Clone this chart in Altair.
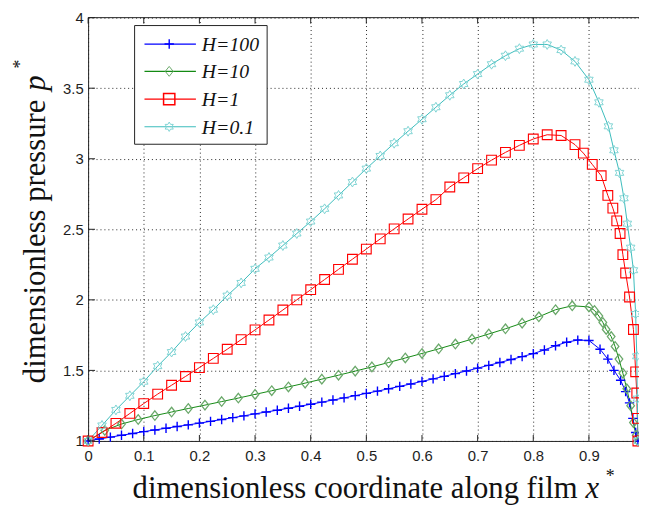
import altair as alt
import pandas as pd

# ---------------- data ----------------
series_names = ["H=100", "H=10", "H=1", "H=0.1"]

x_h100 = [0.00, 0.02, 0.04, 0.06, 0.08, 0.10, 0.12, 0.14, 0.16, 0.18, 0.20, 0.22, 0.24, 0.26,
          0.28, 0.30, 0.32, 0.34, 0.36, 0.38, 0.40, 0.42, 0.44, 0.46, 0.48, 0.50, 0.52, 0.54,
          0.56, 0.58, 0.60, 0.62, 0.64, 0.66, 0.68, 0.70, 0.72, 0.74, 0.76, 0.78, 0.80, 0.82,
          0.84, 0.86, 0.88, 0.90, 0.92, 0.934, 0.945, 0.957, 0.966, 0.973, 0.979, 0.984, 0.988]
y_h100 = [1.000, 1.014, 1.027, 1.040, 1.053, 1.066, 1.078, 1.090, 1.102, 1.114, 1.126, 1.139,
          1.152, 1.165, 1.178, 1.192, 1.205, 1.218, 1.232, 1.246, 1.260, 1.275, 1.290, 1.305,
          1.321, 1.337, 1.353, 1.370, 1.387, 1.404, 1.422, 1.440, 1.458, 1.477, 1.496, 1.516,
          1.536, 1.556, 1.577, 1.598, 1.619, 1.645, 1.675, 1.700, 1.715, 1.712, 1.650, 1.580,
          1.500, 1.430, 1.350, 1.270, 1.160, 1.060, 1.000]

x_h10 = [0.00, 0.03, 0.06, 0.09, 0.12, 0.15, 0.18, 0.21, 0.24, 0.27, 0.30, 0.33, 0.36, 0.39,
         0.42, 0.45, 0.48, 0.51, 0.54, 0.57, 0.60, 0.63, 0.66, 0.69, 0.72, 0.75, 0.78, 0.81,
         0.84, 0.87, 0.90, 0.91, 0.918, 0.925, 0.931, 0.940, 0.947, 0.954, 0.961, 0.968, 0.975,
         0.980, 0.985, 0.988]
y_h10 = [1.000, 1.075, 1.120, 1.152, 1.180, 1.205, 1.230, 1.254, 1.279, 1.304, 1.330, 1.356,
         1.383, 1.410, 1.438, 1.466, 1.495, 1.525, 1.556, 1.588, 1.620, 1.653, 1.687, 1.722,
         1.758, 1.795, 1.835, 1.880, 1.930, 1.958, 1.950, 1.925, 1.885, 1.840, 1.790, 1.740,
         1.670, 1.580, 1.480, 1.370, 1.250, 1.130, 1.040, 1.000]

x_h1 = [0.000, 0.025, 0.050, 0.075, 0.100, 0.125, 0.150, 0.175, 0.200, 0.225, 0.250, 0.275,
        0.300, 0.325, 0.350, 0.375, 0.400, 0.425, 0.450, 0.475, 0.500, 0.525, 0.550, 0.575,
        0.600, 0.625, 0.650, 0.675, 0.700, 0.725, 0.750, 0.775, 0.800, 0.825, 0.850, 0.875,
        0.890, 0.906, 0.922, 0.934, 0.943, 0.950, 0.956, 0.961, 0.966, 0.973, 0.980, 0.984,
        0.986, 0.987, 0.988]
y_h1 = [1.000, 1.060, 1.125, 1.195, 1.265, 1.332, 1.395, 1.457, 1.520, 1.585, 1.650, 1.718,
        1.787, 1.857, 1.928, 2.000, 2.072, 2.144, 2.216, 2.288, 2.360, 2.432, 2.503, 2.573,
        2.642, 2.710, 2.800, 2.865, 2.930, 2.990, 3.045, 3.095, 3.140, 3.170, 3.165, 3.100,
        3.040, 2.960, 2.880, 2.740, 2.650, 2.560, 2.470, 2.320, 2.190, 2.020, 1.790, 1.490,
        1.340, 1.160, 1.000]

x_h01 = [0.000, 0.025, 0.050, 0.075, 0.100, 0.125, 0.150, 0.175, 0.200, 0.225, 0.250, 0.275,
         0.300, 0.325, 0.350, 0.375, 0.400, 0.425, 0.450, 0.475, 0.500, 0.525, 0.550, 0.575,
         0.600, 0.625, 0.650, 0.675, 0.700, 0.725, 0.750, 0.775, 0.800, 0.825, 0.850, 0.875,
         0.900, 0.918, 0.935, 0.945, 0.955, 0.963, 0.969, 0.975, 0.980, 0.984, 0.986, 0.987,
         0.988]
y_h01 = [1.000, 1.110, 1.220, 1.320, 1.420, 1.530, 1.630, 1.740, 1.840, 1.930, 2.030, 2.120,
         2.220, 2.300, 2.385, 2.470, 2.555, 2.645, 2.740, 2.835, 2.930, 3.020, 3.110, 3.195,
         3.280, 3.365, 3.450, 3.530, 3.600, 3.670, 3.730, 3.780, 3.810, 3.810, 3.770, 3.690,
         3.560, 3.400, 3.230, 3.060, 2.900, 2.720, 2.540, 2.370, 2.210, 1.900, 1.600, 1.300,
         1.000]

x_ticks = [0.0, 0.1, 0.2, 0.3, 0.4, 0.5, 0.6, 0.7, 0.8, 0.9]
y_ticks = [1.0, 1.5, 2.0, 2.5, 3.0, 3.5, 4.0]

x_title = "dimensionless coordinate along film"
x_title_var = "x"
y_title = "dimensionless pressure"
y_title_var = "p"
star = "*"

# ---------------- styles ----------------
line_colors = ["#0000ff", "#138a13", "#ff0000", "#3cbcbc"]
marker_colors = ["#0000ff", "#6aa86a", "#ff0000", "#7fd3d3"]
PLUS = "M-1,0L1,0M0,-1L0,1"
DIAMOND = "M0,-1L0.8,0L0,1L-0.8,0Z"
HEXAGRAM = ("M0,-1L0.2887,-0.5L0.866,-0.5L0.5774,0L0.866,0.5L0.2887,0.5L0,1"
            "L-0.2887,0.5L-0.866,0.5L-0.5774,0L-0.866,-0.5L-0.2887,-0.5Z")
shapes = [PLUS, DIAMOND, "square", HEXAGRAM]
sizes = [90, 100, 130, 90]
marker_widths = [1.4, 1.0, 1.5, 1.0]

W, H = 557, 428

rows = []
for name, xs, ys in zip(series_names, [x_h100, x_h10, x_h1, x_h01], [y_h100, y_h10, y_h1, y_h01]):
    for i, (a, b) in enumerate(zip(xs, ys)):
        rows.append({"series": name, "x": a, "y": b, "i": i})
df = pd.DataFrame(rows)

xscale = alt.Scale(domain=[0, 0.99], nice=False, zero=False)
yscale = alt.Scale(domain=[1, 4], nice=False, zero=False)
axis_common = dict(title=None, grid=True, gridColor="#000000", gridDash=[1, 3], gridWidth=1,
                   gridOpacity=0.85, ticks=False, domainColor="#222222", domainWidth=1,
                   labelFont="Liberation Sans", labelFontSize=15, labelColor="#1e1e1e",
                   format=".1~f", labelOverlap=False, labelFlush=False)
xaxis = alt.Axis(values=x_ticks, labelPadding=8, **axis_common)
yaxis = alt.Axis(values=y_ticks, labelPadding=5, **axis_common)


def X(f):
    return alt.X(f, scale=xscale, axis=xaxis)


def Y(f):
    return alt.Y(f, scale=yscale, axis=yaxis)


sdom = series_names
lines = alt.Chart(df).mark_line(strokeWidth=1).encode(
    x=X("x:Q"), y=Y("y:Q"),
    color=alt.Color("series:N", scale=alt.Scale(domain=sdom, range=line_colors), legend=None),
    order=alt.Order("i:Q"),
)
points = alt.Chart(df).mark_point(filled=False, opacity=1).encode(
    x=X("x:Q"), y=Y("y:Q"),
    stroke=alt.Stroke("series:N", scale=alt.Scale(domain=sdom, range=marker_colors), legend=None),
    shape=alt.Shape("series:N", scale=alt.Scale(domain=sdom, range=shapes), legend=None),
    size=alt.Size("series:N", scale=alt.Scale(domain=sdom, range=sizes), legend=None),
    strokeWidth=alt.StrokeWidth("series:N", scale=alt.Scale(domain=sdom, range=marker_widths), legend=None),
)

xt = pd.DataFrame({"v": x_ticks})
yt = pd.DataFrame({"v": y_ticks})
one = pd.DataFrame({"k": [0]})

tick_bottom = alt.Chart(xt).mark_rule(color="#222222", strokeWidth=1).encode(
    x=X("v:Q"), y=alt.value(H), y2=alt.value(H - 6))
tick_top = alt.Chart(xt).mark_rule(color="#222222", strokeWidth=1).encode(
    x=X("v:Q"), y=alt.value(0), y2=alt.value(6))
tick_left = alt.Chart(yt).mark_rule(color="#222222", strokeWidth=1).encode(
    y=Y("v:Q"), x=alt.value(0), x2=alt.value(7))
top_border = alt.Chart(one).mark_rule(color="#222222", strokeWidth=1).encode(
    x=alt.value(0), x2=alt.value(W), y=alt.value(0))

# legend (drawn by hand inside the plot)
legend_layers = [
    alt.Chart(one).mark_rect(fill="white", stroke="#222222", strokeWidth=1).encode(
        x=alt.value(47), x2=alt.value(181), y=alt.value(8), y2=alt.value(128))
]
legend_rows = [26.7, 54.3, 82.3, 110.3]
for k, name in enumerate(series_names):
    ld = pd.DataFrame({"label": [name]})
    ly = legend_rows[k]
    legend_layers.append(alt.Chart(ld).mark_rule(color=line_colors[k], strokeWidth=1.2).encode(
        x=alt.value(57), x2=alt.value(109), y=alt.value(ly)))
    legend_layers.append(alt.Chart(ld).mark_point(
        filled=False, opacity=1, shape=shapes[k], size=sizes[k], stroke=marker_colors[k],
        strokeWidth=marker_widths[k]).encode(x=alt.value(82), y=alt.value(ly)))
    legend_layers.append(alt.Chart(ld).mark_text(
        align="left", baseline="middle", font="Liberation Serif", fontStyle="italic",
        fontSize=20, color="#111111").encode(
        x=alt.value(115), y=alt.value(ly + 1), text="label:N"))

# axis titles
title_layers = [
    alt.Chart(one).mark_text(align="right", baseline="alphabetic", font="Liberation Serif",
                             fontSize=31, color="#111111").encode(
        x=alt.value(495), y=alt.value(486), text=alt.value(x_title)),
    alt.Chart(one).mark_text(align="left", baseline="alphabetic", font="Liberation Serif",
                             fontStyle="italic", fontSize=31, color="#111111").encode(
        x=alt.value(503), y=alt.value(486), text=alt.value(x_title_var)),
    alt.Chart(one).mark_text(align="center", baseline="alphabetic", font="Liberation Serif",
                             fontSize=18, color="#111111").encode(
        x=alt.value(528), y=alt.value(469), text=alt.value(star)),
    alt.Chart(one).mark_text(align="right", baseline="alphabetic", font="Liberation Serif",
                             fontSize=31, angle=270, color="#111111").encode(
        x=alt.value(-44), y=alt.value(83), text=alt.value(y_title)),
    alt.Chart(one).mark_text(align="left", baseline="alphabetic", font="Liberation Serif",
                             fontStyle="italic", fontSize=31, angle=270, color="#111111").encode(
        x=alt.value(-44), y=alt.value(74), text=alt.value(y_title_var)),
    alt.Chart(one).mark_text(align="center", baseline="alphabetic", font="Liberation Serif",
                             fontSize=18, angle=270, color="#111111").encode(
        x=alt.value(-63), y=alt.value(47), text=alt.value(star)),
]

chart = alt.layer(
    lines, points, tick_bottom, tick_top, tick_left, top_border,
    *legend_layers, *title_layers
).properties(
    width=W, height=H,
    padding={"left": 81, "top": 7, "right": 0, "bottom": 62},
    autosize=alt.AutoSizeParams(type="none"),
).configure_view(stroke=None)

chart.save("out.html", embed_options={"renderer": "svg", "actions": False})
